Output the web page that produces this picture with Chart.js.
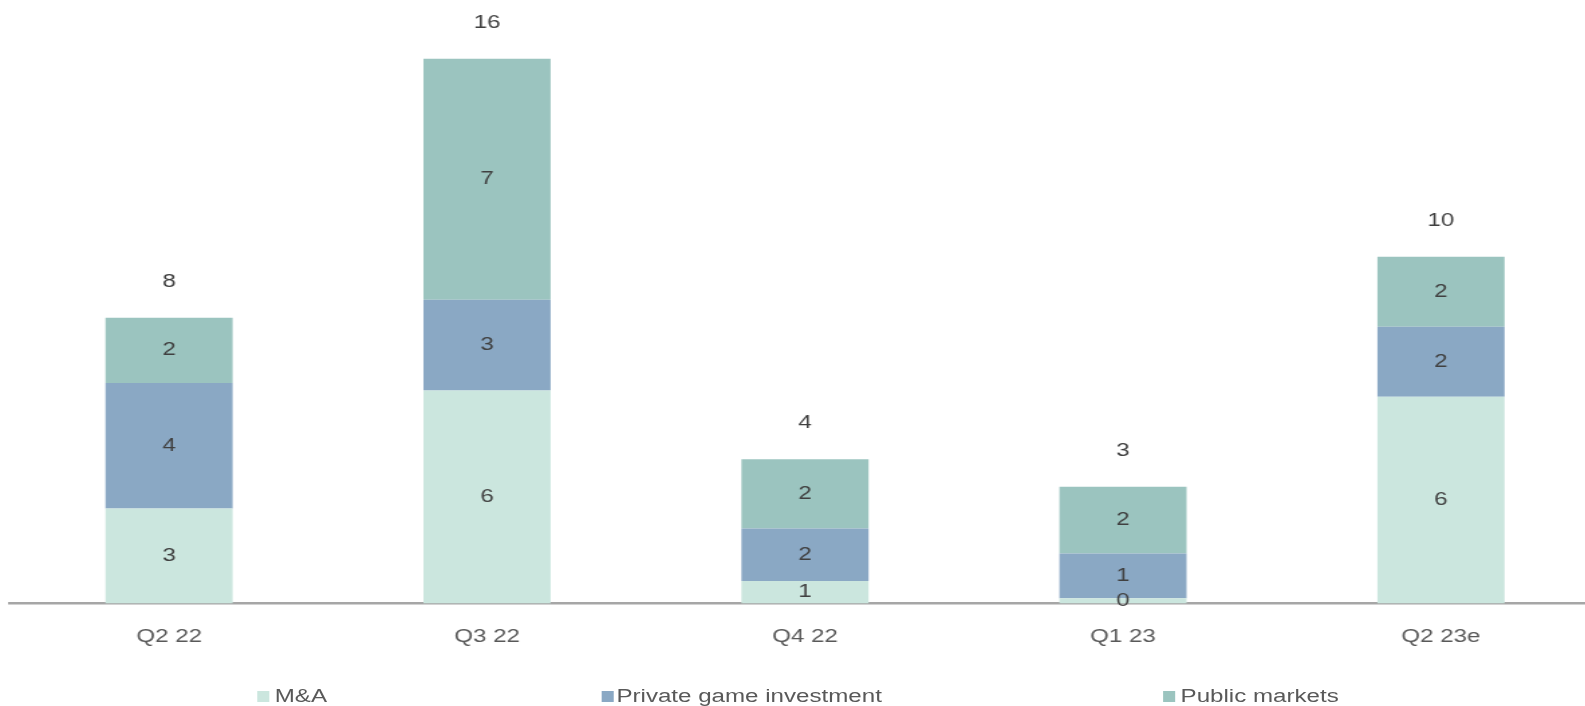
<!DOCTYPE html>
<html>
<head>
<meta charset="utf-8">
<script src="https://cdn.jsdelivr.net/npm/chart.js@4"></script>
<style>
  html, body { margin: 0; padding: 0; background: #fff; overflow: hidden; width: 1585px; height: 706px; }
  /* the reference is stretched horizontally, so draw narrow and stretch */
  #wrap { position: absolute; left: 0; top: 0; width: 1200px; height: 706px; transform: scaleX(1.34); transform-origin: 0 0; }
  #c { position: absolute; left: 0; top: 0; }
  .lg { position: absolute; top: 687px; font: 18px "Liberation Sans", Arial, sans-serif; line-height: 18px; color: #595959; white-space: nowrap; }
  .mk { position: absolute; top: 691px; width: 9px; height: 11px; }
</style>
</head>
<body>
<div id="wrap">
  <canvas id="c" width="1200" height="706" style="width:1200px;height:706px"></canvas>
  <span class="mk" style="left:192px;background:#cbe6de"></span><span class="lg" style="left:205px">M&amp;A</span>
  <span class="mk" style="left:449px;background:#8aa8c4"></span><span class="lg" style="left:460px">Private game investment</span>
  <span class="mk" style="left:868px;background:#9bc4bf"></span><span class="lg" style="left:881px">Public markets</span>
</div>
<script>
const quarters = ['Q2 22', 'Q3 22', 'Q4 22', 'Q1 23', 'Q2 23e'];
const mna      = [2.79, 6.26, 0.66, 0.15, 6.08];
const privGame = [3.69, 2.67, 1.54, 1.32, 2.06];
const publicMk = [1.92, 7.09, 2.04, 1.96, 2.06];

const FONT = '"Liberation Sans", Arial, sans-serif';

// segment values in the middle, totals above the stack
const labels = {
  id: 'labels',
  afterDatasetsDraw(chart) {
    const ctx = chart.ctx;
    ctx.save();
    ctx.font = '18px ' + FONT;
    ctx.fillStyle = '#404040';
    ctx.textAlign = 'center';
    ctx.textBaseline = 'middle';
    chart.data.datasets.forEach((ds, i) => {
      chart.getDatasetMeta(i).data.forEach((bar, j) => {
        ctx.fillText(Math.round(ds.data[j]), bar.x, (bar.y + bar.base) / 2);
      });
    });
    const last = chart.getDatasetMeta(chart.data.datasets.length - 1).data;
    last.forEach((bar, j) => {
      const tot = chart.data.datasets.reduce((s, d) => s + d.data[j], 0);
      ctx.fillText(Math.round(tot), bar.x, bar.y - 36);
    });
    ctx.restore();
  }
};

new Chart(document.getElementById('c'), {
  type: 'bar',
  data: {
    labels: quarters,
    datasets: [
      { label: 'M&A', data: mna, backgroundColor: '#cbe6de' },
      { label: 'Private game investment', data: privGame, backgroundColor: '#8aa8c4' },
      { label: 'Public markets', data: publicMk, backgroundColor: '#9bc4bf' }
    ]
  },
  options: {
    responsive: false,
    animation: false,
    devicePixelRatio: 1,
    layout: { padding: { left: 7.5, right: 6, top: 25.5, bottom: 35 } },
    datasets: { bar: { barPercentage: 0.4, categoryPercentage: 1 } },
    plugins: { legend: { display: false }, tooltip: { enabled: false } },
    scales: {
      x: {
        stacked: true,
        grid: { display: false, drawTicks: false },
        border: { display: true, color: '#a6a6a6', width: 2.5 },
        ticks: { color: '#595959', font: { size: 18, family: FONT }, padding: 23 }
      },
      y: { stacked: true, display: false, min: 0, max: 17 }
    }
  },
  plugins: [labels]
});
</script>
</body>
</html>
